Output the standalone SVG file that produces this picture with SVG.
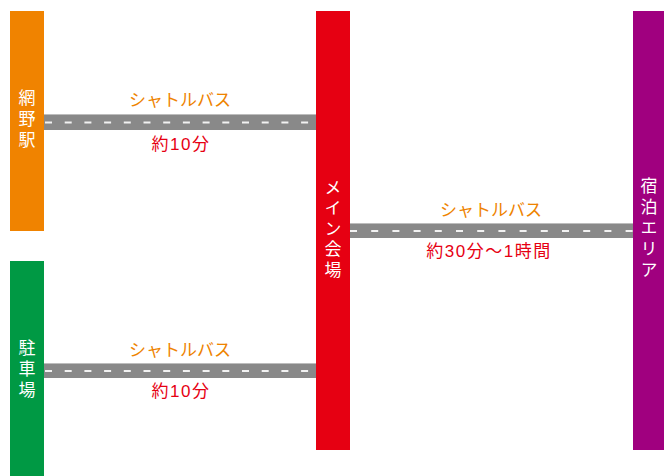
<svg xmlns="http://www.w3.org/2000/svg" width="664" height="476" viewBox="0 0 664 476">
<style>
.lbl{font-family:"Noto Sans CJK JP","Noto Sans",sans-serif;font-size:17px;text-anchor:middle}
.vt{font-family:"Noto Sans CJK JP","Noto Sans",sans-serif;font-size:17px;fill:#fff;writing-mode:vertical-rl;letter-spacing:4px}
.bus{fill:#ee8300}
.time{fill:#e60012;letter-spacing:1.5px}
.num{font-family:"Liberation Sans",Arial,sans-serif}
.road{fill:#898989}
.edge{fill:#bdbdbd}
.dash{stroke:#f2f2f2;stroke-width:2}
</style>
<rect width="664" height="476" fill="#fff"/>
<g id="connectors">
<g id="road1">
<rect class="road" x="44" y="114" width="272" height="16"/>
<rect class="edge" x="44" y="114" width="272" height="1"/>
<line class="dash" x1="45" y1="122.5" x2="316" y2="122.5" stroke-dasharray="7 12.7"/>
<text class="lbl bus" x="180" y="106">シャトルバス</text>
<text class="lbl time" x="181" y="150">約<tspan class="num">10</tspan>分</text>
</g>
<g id="road2">
<rect class="road" x="350" y="223" width="283" height="15"/>
<rect class="edge" x="350" y="223" width="283" height="1"/>
<line class="dash" x1="350" y1="231" x2="633" y2="231" stroke-dasharray="7 14.2"/>
<text class="lbl bus" x="491" y="216">シャトルバス</text>
<text class="lbl time" x="489" y="257">約<tspan class="num">30</tspan>分～<tspan class="num">1</tspan>時間</text>
</g>
<g id="road3">
<rect class="road" x="44" y="363" width="272" height="15"/>
<rect class="edge" x="44" y="363" width="272" height="1"/>
<line class="dash" x1="45" y1="371" x2="316" y2="371" stroke-dasharray="7 12.7"/>
<text class="lbl bus" x="180" y="356">シャトルバス</text>
<text class="lbl time" x="181" y="397">約<tspan class="num">10</tspan>分</text>
</g>
</g>
<g id="abashiri">
<rect x="10" y="11" width="34" height="220" fill="#f08300"/>
<text class="vt" x="27" y="89">網野駅</text>
</g>
<g id="parking">
<rect x="10" y="261" width="34" height="215" fill="#009944"/>
<text class="vt" x="27" y="339">駐車場</text>
</g>
<g id="main">
<rect x="316" y="11" width="34" height="439" fill="#e60012"/>
<text class="vt" x="333" y="179" style="letter-spacing:3.5px">メイン会場</text>
</g>
<g id="lodging">
<rect x="633" y="11" width="34" height="439" fill="#a0007f"/>
<text class="vt" x="649" y="177">宿泊エリア</text>
</g>
</svg>
